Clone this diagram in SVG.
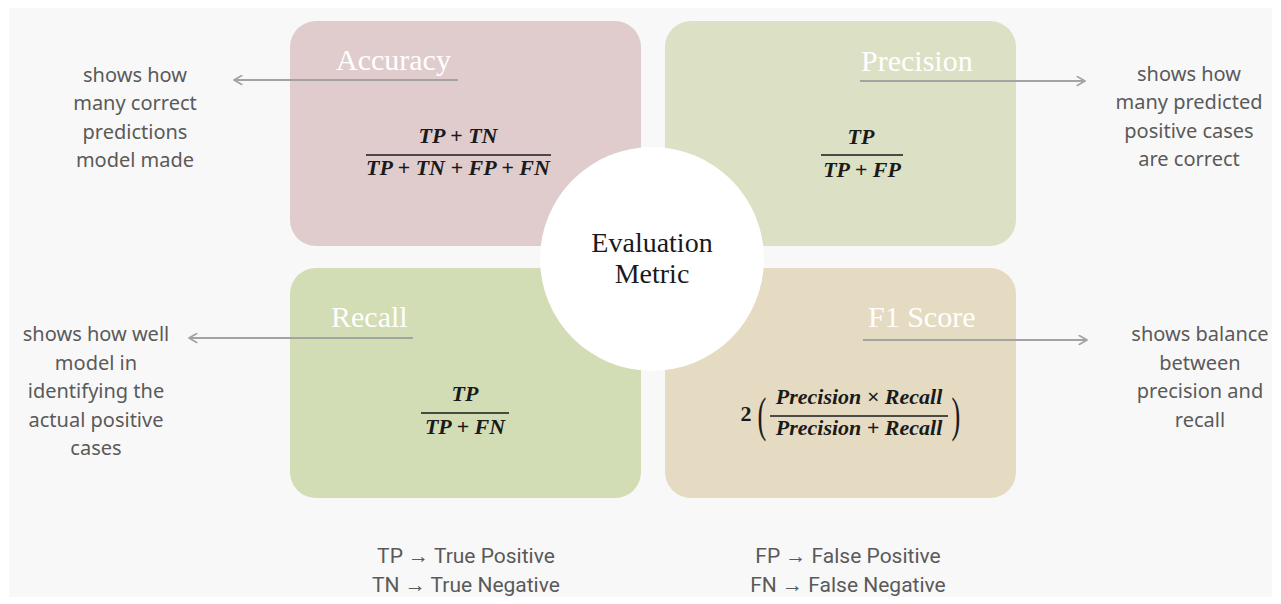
<svg xmlns="http://www.w3.org/2000/svg" width="1281" height="604" viewBox="0 0 1281 604">
<defs>
<style>
.box{stroke:none}
.title{font-family:"Liberation Serif","DejaVu Serif",serif;font-size:30px;fill:#ffffff;text-anchor:start}
.math{font-family:"Liberation Serif","DejaVu Serif",serif;font-style:italic;font-weight:bold;font-size:22px;fill:#1a1a1a;text-anchor:middle}
.paren{font-family:"Liberation Serif","DejaVu Serif",serif;font-size:44px;fill:#1a1a1a;text-anchor:middle}
.frac{stroke:#1a1a1a;stroke-width:1.3}
.side{font-family:"Noto Sans","Open Sans",sans-serif;font-size:20px;fill:#5a5a5a;text-anchor:middle}
.legend{font-family:"Roboto","Liberation Sans",sans-serif;font-size:21px;fill:#5a5a5a;text-anchor:middle}
.center{font-family:"Liberation Serif","DejaVu Serif",serif;font-size:28px;fill:#1a1a1a;text-anchor:middle}
.conn{stroke:#a3a3a3;stroke-width:2.2;fill:none}
</style>
<marker id="arr" viewBox="0 0 10 10" refX="8" refY="5" markerWidth="5" markerHeight="5" orient="auto-start-reverse" markerUnits="strokeWidth">
<path d="M1,1 L8,5 L1,9" fill="none" stroke="#a3a3a3" stroke-width="1.6" stroke-linecap="round" stroke-linejoin="round"/>
</marker>
</defs>
<rect x="0" y="0" width="1281" height="604" fill="#ffffff"/>
<rect x="9" y="8" width="1263" height="589" fill="#f8f8f8"/>

<g id="accuracy">
<rect class="box" x="290" y="21" width="351" height="225" rx="26" fill="#e0cccd"/>
<text class="title" x="336" y="70">Accuracy</text>
<text class="math" x="458" y="143">TP + TN</text>
<line class="frac" x1="366" y1="155" x2="551" y2="155"/>
<text class="math" x="458" y="175">TP + TN + FP + FN</text>
</g>

<g id="precision">
<rect class="box" x="665" y="21" width="351" height="225" rx="26" fill="#dce0c4"/>
<text class="title" x="861" y="71">Precision</text>
<text class="math" x="861" y="144">TP</text>
<line class="frac" x1="821" y1="155" x2="903" y2="155"/>
<text class="math" x="862" y="177">TP + FP</text>
</g>

<g id="recall">
<rect class="box" x="290" y="268" width="351" height="230" rx="26" fill="#d2dcb5"/>
<text class="title" x="331" y="327">Recall</text>
<text class="math" x="465" y="401">TP</text>
<line class="frac" x1="421" y1="413" x2="509" y2="413"/>
<text class="math" x="465" y="434">TP + FN</text>
</g>

<g id="f1score">
<rect class="box" x="665" y="268" width="351" height="230" rx="26" fill="#e5dbc2"/>
<text class="math" x="746" y="421" style="font-style:normal">2</text>
<text class="paren" x="762" y="430" transform="translate(762,422) scale(0.6,1.1) translate(-762,-422)">(</text>
<text class="math" x="859" y="404">Precision  × Recall</text>
<line class="frac" x1="770" y1="416" x2="948" y2="416"/>
<text class="math" x="859" y="435">Precision + Recall</text>
<text class="paren" x="956" y="430" transform="translate(956,422) scale(0.6,1.1) translate(-956,-422)">)</text>
<text class="title" x="868" y="327">F1 Score</text>
</g>

<g id="evaluation-metric">
<circle cx="652" cy="259" r="112" fill="#ffffff"/>
<text class="center" x="652" y="252">Evaluation</text>
<text class="center" x="652" y="283">Metric</text>
</g>

<g id="desc-accuracy">
<text class="side" x="135" y="82">shows how</text>
<text class="side" x="135" y="110">many correct</text>
<text class="side" x="135" y="139">predictions</text>
<text class="side" x="135" y="167">model made</text>
</g>
<g id="desc-precision">
<text class="side" x="1189" y="81">shows how</text>
<text class="side" x="1189" y="109">many predicted</text>
<text class="side" x="1189" y="138">positive cases</text>
<text class="side" x="1189" y="166">are correct</text>
</g>
<g id="desc-recall">
<text class="side" x="96" y="341">shows how well</text>
<text class="side" x="96" y="370">model in</text>
<text class="side" x="96" y="398">identifying the</text>
<text class="side" x="96" y="427">actual positive</text>
<text class="side" x="96" y="455">cases</text>
</g>
<g id="desc-f1">
<text class="side" x="1200" y="341">shows balance</text>
<text class="side" x="1200" y="370">between</text>
<text class="side" x="1200" y="398">precision and</text>
<text class="side" x="1200" y="427">recall</text>
</g>

<g id="legend">
<text class="legend" x="466" y="563">TP → True Positive</text>
<text class="legend" x="466" y="592">TN → True Negative</text>
<text class="legend" x="848" y="563">FP → False Positive</text>
<text class="legend" x="848" y="592">FN → False Negative</text>
</g>

<g id="connectors">
<line class="conn" x1="458" y1="80" x2="234" y2="80" marker-end="url(#arr)"/>
<line class="conn" x1="860" y1="81" x2="1085" y2="81" marker-end="url(#arr)"/>
<line class="conn" x1="413" y1="338" x2="189" y2="338" marker-end="url(#arr)"/>
<line class="conn" x1="863" y1="340" x2="1087" y2="340" marker-end="url(#arr)"/>
</g>
</svg>
